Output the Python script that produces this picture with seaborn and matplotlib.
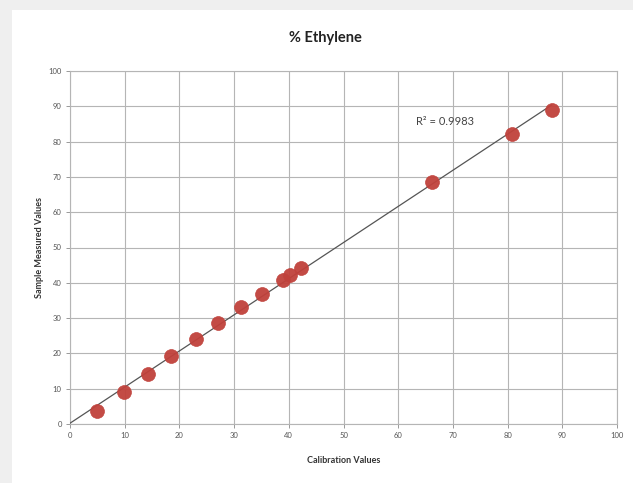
import numpy as np
import pandas as pd
import matplotlib
matplotlib.use("Agg")
import matplotlib.pyplot as plt
from matplotlib.patches import Rectangle
import seaborn as sns

calibration = [4.9, 9.9, 14.3, 18.5, 23.0, 27.1, 31.3, 35.1, 38.9, 40.2, 42.2, 66.2, 80.8, 88.1]
measured = [3.7, 9.1, 14.2, 19.3, 24.1, 28.6, 33.1, 36.8, 40.8, 42.2, 44.2, 68.6, 82.2, 89.0]
x_ticks = list(range(0, 101, 10))
y_ticks = list(range(0, 101, 10))
title = "% Ethylene"
x_label = "Calibration Values"
y_label = "Sample Measured Values"
r2_label = "R² = 0.9983"

df = pd.DataFrame({"Calibration": calibration, "Measured": measured})

sns.set_style("white")
plt.rcParams["font.family"] = ["Lato", "DejaVu Sans"]

fig = plt.figure(figsize=(6.33, 4.83), dpi=100, facecolor="#efefef")
fig.patches.append(Rectangle((12 / 633, 0), 1 - 12 / 633, (483 - 10) / 483,
                             transform=fig.transFigure, facecolor="white",
                             edgecolor="none", zorder=-10))
ax = fig.add_axes([70 / 633, (483 - 424) / 483, (617 - 70) / 633, (424 - 71) / 483])
ax.set_facecolor("white")

# trend line
slope, intercept = np.polyfit(df["Calibration"], df["Measured"], 1)
xs = np.array([0, max(calibration)])
ax.plot(xs, slope * xs + intercept, color="#555555", lw=0.9, zorder=3)

sns.scatterplot(data=df, x="Calibration", y="Measured", ax=ax, s=100,
                color="#c0413b", edgecolor="#c0413b", linewidth=0.5, alpha=0.95, zorder=4)

ax.set_xlim(0, 100)
ax.set_ylim(0, 100)
ax.set_xticks(x_ticks)
ax.set_yticks(y_ticks)
ax.grid(True, color="#b5b5b5", lw=0.8)
ax.set_axisbelow(True)
for s in ax.spines.values():
    s.set_color("#b5b5b5")
    s.set_linewidth(0.8)
ax.tick_params(axis="both", labelsize=5.5, colors="#555555", length=3, width=0.7, direction="out",
               color="#999999", pad=3)
ax.xaxis.set_ticks_position("bottom")
ax.yaxis.set_ticks_position("left")

ax.set_xlabel(x_label, fontsize=6.5, fontweight="bold", color="#333333", labelpad=12)
ax.set_ylabel(y_label, fontsize=6.5, fontweight="bold", color="#333333", labelpad=3)
fig.text(325 / 633, 1 - 38 / 483, title, ha="center", va="center", fontsize=10.5,
         fontweight="bold", color="#222222")
ax.text(63.2, 85.8, r2_label, fontsize=8, color="#444444", va="center", ha="left")

fig.savefig("out.png", dpi=100, facecolor=fig.get_facecolor())
